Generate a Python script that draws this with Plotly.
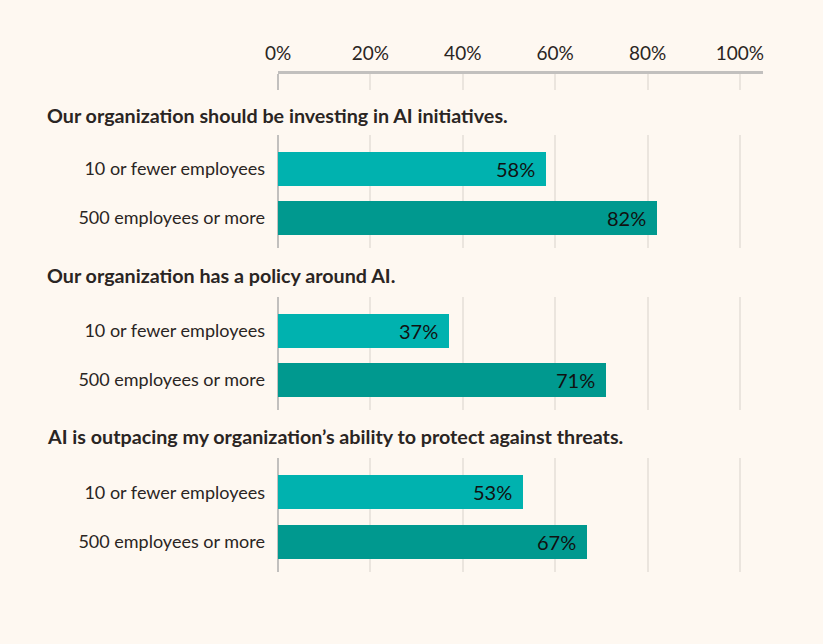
import plotly.graph_objects as go

questions = [
    "Our organization should be investing in AI initiatives.",
    "Our organization has a policy around AI.",
    "AI is outpacing my organization’s ability to protect against threats.",
]
groups = ["10 or fewer employees", "500 employees or more"]
small_vals = [58, 37, 53]
large_vals = [82, 71, 67]
tick_vals = [0, 20, 40, 60, 80, 100]
tick_text = ["0%", "20%", "40%", "60%", "80%", "100%"]

W, H = 823, 644
BG = "#fef8f1"
TXT = "#2a2523"
C_SMALL = "#00b2af"
C_LARGE = "#00998f"
GRID = "#ebe5de"
AXIS = "#c2c0be"
FONT = "Lato"

def py(p):
    return 1 - p / H

x_dom = [278 / W, 763 / W]
panels = [(135, 248), (297, 410), (458, 572)]
title_y = [116, 276, 437]

fig = go.Figure()
layout = dict(
    width=W, height=H, paper_bgcolor=BG, plot_bgcolor=BG,
    margin=dict(l=0, r=0, t=0, b=0, autoexpand=False), showlegend=False,
    font=dict(family=FONT, color=TXT), bargap=0,
)
annotations = []
for i, q in enumerate(questions):
    n = i + 1
    xa = "x" if n == 1 else f"x{n}"
    ya = "y" if n == 1 else f"y{n}"
    vals = [small_vals[i], large_vals[i]]
    fig.add_trace(go.Bar(
        x=vals, y=[0, 1], orientation="h", width=0.694,
        marker=dict(color=[C_SMALL, C_LARGE], line=dict(width=0)),
        xaxis=xa, yaxis=ya, hoverinfo="skip",
    ))
    for j, v in enumerate(vals):
        annotations.append(dict(
            x=v, y=j, xref=xa, yref=ya, text=f"{v}%", showarrow=False,
            xanchor="right", xshift=-9, font=dict(size=20, color="#111111", family=FONT),
        ))
    top, bot = panels[i]
    layout[f"xaxis{'' if n == 1 else n}"] = dict(
        domain=x_dom, range=[0, 105], anchor=ya, tickvals=tick_vals,
        showticklabels=False, showgrid=True, gridcolor=GRID, gridwidth=2,
        zeroline=True, zerolinecolor=AXIS, zerolinewidth=2, showline=False,
        fixedrange=True, automargin=False,
    )
    layout[f"yaxis{'' if n == 1 else n}"] = dict(
        domain=[py(bot), py(top)], range=[1.612, -0.694], anchor=xa,
        tickvals=[0, 1], ticktext=groups, showgrid=False, zeroline=False,
        showline=False, ticks="", ticklabelstandoff=12, automargin=False,
        tickfont=dict(size=18, color=TXT, family=FONT),
    )
    annotations.append(dict(
        x=45 / W, y=py(title_y[i] - 0.5), xref="paper", yref="paper", text=f"<b>{q}</b>",
        showarrow=False, xanchor="left", yanchor="middle",
        font=dict(size=19.7, color=TXT, family=FONT),
    ))

# top axis
fig.add_trace(go.Scatter(x=[0, 100], y=[0, 0], mode="markers", marker=dict(opacity=0),
                         xaxis="x4", yaxis="y4", hoverinfo="skip"))
layout["xaxis4"] = dict(
    domain=x_dom, range=[0, 105], anchor="y4", side="top", tickvals=tick_vals,
    ticktext=tick_text, showgrid=True, gridcolor=GRID, gridwidth=2,
    zeroline=True, zerolinecolor=AXIS, zerolinewidth=2,
    showline=True, linecolor=AXIS, linewidth=2.5, ticks="", automargin=False,
    tickfont=dict(size=19, color=TXT, family=FONT), ticklabelstandoff=4,
)
layout["yaxis4"] = dict(
    domain=[py(90), py(74)], range=[0, 1], anchor="x4", visible=False,
)
layout["annotations"] = annotations
fig.update_layout(**layout)
fig.write_html("out.html")
